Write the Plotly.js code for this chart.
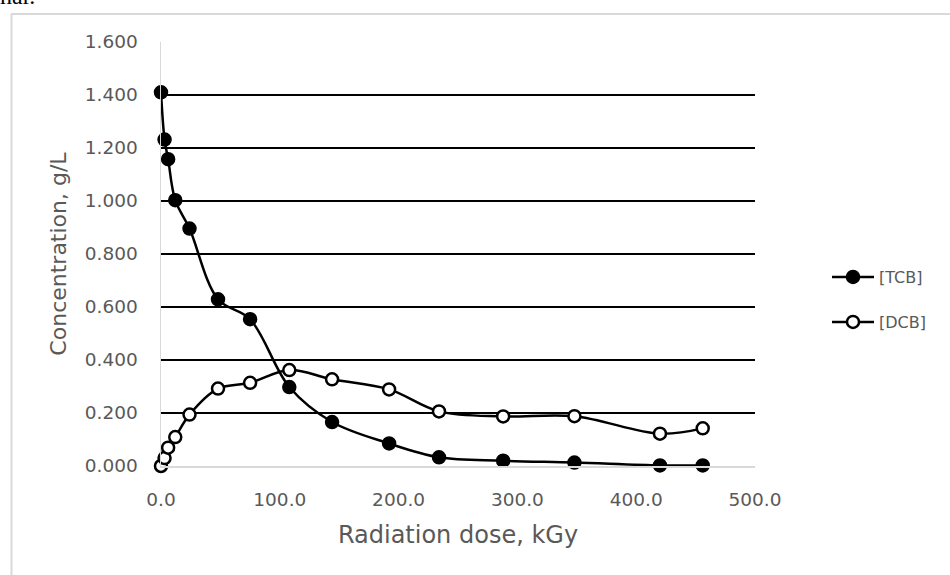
<!DOCTYPE html>
<html>
<head>
<meta charset="utf-8">
<script src="https://cdn.plot.ly/plotly-3.0.1.min.js"></script>
<style>html,body{margin:0;padding:0;background:#fff;}#chart{width:950px;height:575px;}</style>
</head>
<body>
<div id="chart"></div>
<script>
const dose = [0, 3, 6, 12, 24, 48, 75, 108, 144, 192, 234, 288, 348, 420, 456];
const tcb = [1.410, 1.232, 1.158, 1.003, 0.896, 0.629, 0.554, 0.298, 0.166, 0.085, 0.033, 0.020, 0.013, 0.002, 0.002];
const dcbDose = [0, 3, 6, 12, 24, 48, 75, 108, 144, 192, 234, 288, 348, 420, 456];
const dcb = [0.000, 0.030, 0.069, 0.109, 0.194, 0.292, 0.314, 0.362, 0.327, 0.289, 0.206, 0.187, 0.188, 0.122, 0.142];
const yTicks = [0, 0.2, 0.4, 0.6, 0.8, 1.0, 1.2, 1.4, 1.6];
const xTicks = [0, 100, 200, 300, 400, 500];

const fontFam = '"DejaVu Sans", "Open Sans", sans-serif';
const gray = '#595959';

const traces = [
  {x: dose, y: tcb, name: '[TCB]', type: 'scatter', mode: 'lines+markers', cliponaxis: false,
   line: {color: '#000', width: 2.5, shape: 'spline', smoothing: 1},
   marker: {symbol: 'circle', size: 13, color: '#000', line: {color: '#000', width: 1.5}},
   legend: 'legend'},
  {x: dcbDose, y: dcb, name: '[DCB]', type: 'scatter', mode: 'lines+markers', cliponaxis: false,
   line: {color: '#000', width: 2.5, shape: 'spline', smoothing: 1},
   marker: {symbol: 'circle', size: 12, color: '#fff', line: {color: '#000', width: 2.5}},
   legend: 'legend2'}
];

const W = 594, H = 424, L = 161, T = 42;
function px(x){ return (x - L) / W; }
function py(y){ return (T + H - y) / H; }

const layout = {
  width: 950, height: 575,
  margin: {l: 161, r: 195, t: 42, b: 109},
  paper_bgcolor: '#fff', plot_bgcolor: '#fff',
  font: {family: fontFam, size: 16, color: gray},
  showlegend: true,
  xaxis: {
    range: [0, 500], tickvals: xTicks, tickformat: '.1f',
    showgrid: false, zeroline: false, showline: true, linecolor: '#d9d9d9', linewidth: 1.5,
    ticks: '', ticklabelstandoff: 16,
    tickfont: {family: fontFam, size: 18.5, color: gray},
    title: {text: 'Radiation dose, kGy', font: {family: fontFam, size: 24, color: gray}, standoff: 17}
  },
  yaxis: {
    range: [0, 1.6], tickvals: yTicks, tickformat: '.3f',
    showgrid: true, gridcolor: '#000', gridwidth: 1.3, zeroline: false,
    showline: true, linecolor: '#d9d9d9', linewidth: 1.5,
    ticks: '', ticklabelstandoff: 18,
    tickfont: {family: fontFam, size: 18.5, color: gray},
    title: {text: 'Concentration, g/L', font: {family: fontFam, size: 22, color: gray}, standoff: 12}
  },
  legend: {x: px(827), y: py(277), xanchor: 'left', yanchor: 'middle', bgcolor: 'rgba(0,0,0,0)',
           font: {family: fontFam, size: 16, color: gray}, itemwidth: 42},
  legend2: {x: px(827), y: py(322), xanchor: 'left', yanchor: 'middle', bgcolor: 'rgba(0,0,0,0)',
           font: {family: fontFam, size: 16, color: gray}, itemwidth: 42},
  shapes: [
    {type: 'line', xref: 'paper', yref: 'paper', x0: px(11), x1: px(950), y0: py(14), y1: py(14), line: {color: '#d9d9d9', width: 2}},
    {type: 'line', xref: 'paper', yref: 'paper', x0: px(11.5), x1: px(11.5), y0: py(14), y1: py(575), line: {color: '#d9d9d9', width: 2}}
  ],
  annotations: [
    {text: 'nar.', xref: 'paper', yref: 'paper', x: px(-2), y: py(11), xanchor: 'left', yanchor: 'bottom',
     showarrow: false, font: {family: '"Liberation Serif", serif', size: 24, color: '#000'}}
  ]
};

Plotly.newPlot('chart', traces, layout, {displayModeBar: false, staticPlot: true});
</script>
</body>
</html>
